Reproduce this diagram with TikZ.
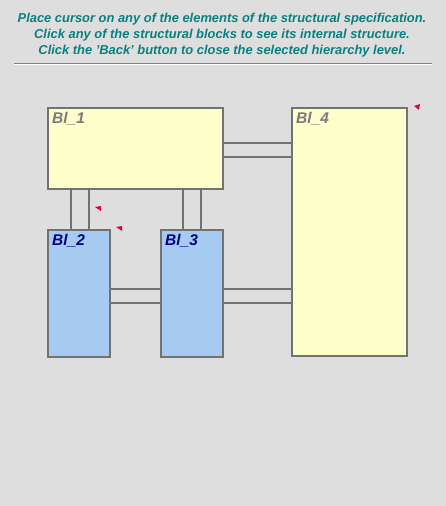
\documentclass[tikz,border=0pt]{standalone}
\usepackage{fontspec}
\setmainfont{Liberation Sans}

\definecolor{bggray}{HTML}{DEDEDE}
\definecolor{hintteal}{HTML}{0A8080}
\definecolor{edgegray}{HTML}{727272}
\definecolor{paleyellow}{HTML}{FFFFCC}
\definecolor{paleblue}{HTML}{A6CAF0}
\definecolor{labelgray}{HTML}{7A7A7A}
\definecolor{labelnavy}{HTML}{000080}
\definecolor{markred}{HTML}{E0005A}

\tikzset{
  block/.style={draw=edgegray, line width=1.6pt, anchor=north west, inner sep=0pt},
  yellowblock/.style={block, fill=paleyellow},
  blueblock/.style={block, fill=paleblue},
  wire/.style={draw=edgegray, line width=1.6pt},
  blocklabel/.style={font=\fontsize{15.5}{15.5}\selectfont\bfseries\itshape, anchor=north west, inner sep=0pt},
  hint/.style={font=\fontsize{12.9}{16}\selectfont\bfseries\itshape, text=hintteal, align=center, inner sep=0pt}
}

\begin{document}
\begin{tikzpicture}[x=1pt, y=-1pt]

  % --- canvas ---
  \fill[bggray] (0,0) rectangle (446,506);
  \useasboundingbox (0,0) rectangle (446,506);

  % --- hint text ---
  \node[hint] (hint) at (222,35) {Place cursor on any of the elements of the structural specification.\\
    Click any of the structural blocks to see its internal structure.\\
    Click the 'Back' button to close the selected hierarchy level.};

  % --- separator ---
  \coordinate (sepL) at (14,63);
  \coordinate (sepR) at (432,63);
  \draw[gray, line width=1pt] (sepL) -- (sepR);
  \draw[white, line width=1pt] ([yshift=-1pt]sepL) -- ([yshift=-1pt]sepR);

  % --- blocks ---
  \node[yellowblock, minimum width=175pt, minimum height=81pt] (bl1) at (47,107) {};
  \node[yellowblock, minimum width=115pt, minimum height=248pt] (bl4) at (291,107) {};
  \node[blueblock, minimum width=62pt, minimum height=127pt] (bl2) at (47,229) {};
  \node[blueblock, minimum width=62pt, minimum height=127pt] (bl3) at (160,229) {};

  % --- labels ---
  \node[blocklabel, text=labelgray] (lab1) at ([xshift=5pt,yshift=-5pt]bl1.north west) {Bl\_1};
  \node[blocklabel, text=labelgray] (lab4) at ([xshift=5pt,yshift=-5pt]bl4.north west) {Bl\_4};
  \node[blocklabel, text=labelnavy] (lab2) at ([xshift=5pt,yshift=-5pt]bl2.north west) {Bl\_2};
  \node[blocklabel, text=labelnavy] (lab3) at ([xshift=5pt,yshift=-5pt]bl3.north west) {Bl\_3};

  % --- connections Bl_1 to Bl_4 ---
  \draw[wire] ([yshift=5.5pt]bl1.east) -- ([yshift=5.5pt]bl1.east -| bl4.west);
  \draw[wire] ([yshift=-8.5pt]bl1.east) -- ([yshift=-8.5pt]bl1.east -| bl4.west);

  % --- connections Bl_1 to Bl_2 and Bl_3 ---
  \draw[wire] ([xshift=-8pt]bl2.north) -- ([xshift=-8pt]bl2.north |- bl1.south);
  \draw[wire] ([xshift=10pt]bl2.north) -- ([xshift=10pt]bl2.north |- bl1.south);
  \draw[wire] ([xshift=-9pt]bl3.north) -- ([xshift=-9pt]bl3.north |- bl1.south);
  \draw[wire] ([xshift=9pt]bl3.north) -- ([xshift=9pt]bl3.north |- bl1.south);

  % --- connections Bl_2 to Bl_3, Bl_3 to Bl_4 ---
  \draw[wire] ([yshift=4.5pt]bl2.east) -- ([yshift=4.5pt]bl2.east -| bl3.west);
  \draw[wire] ([yshift=-9.5pt]bl2.east) -- ([yshift=-9.5pt]bl2.east -| bl3.west);
  \draw[wire] ([yshift=4.5pt]bl3.east) -- ([yshift=4.5pt]bl3.east -| bl4.west);
  \draw[wire] ([yshift=-9.5pt]bl3.east) -- ([yshift=-9.5pt]bl3.east -| bl4.west);

  % --- markers ---
  \fill[markred] (414,106) -- (420,104) -- (419,110) -- cycle;
  \fill[markred] (95,207) -- (101,206) -- (101,211) -- cycle;
  \fill[markred] (116,227) -- (122,226) -- (122,231) -- cycle;

\end{tikzpicture}
\end{document}
